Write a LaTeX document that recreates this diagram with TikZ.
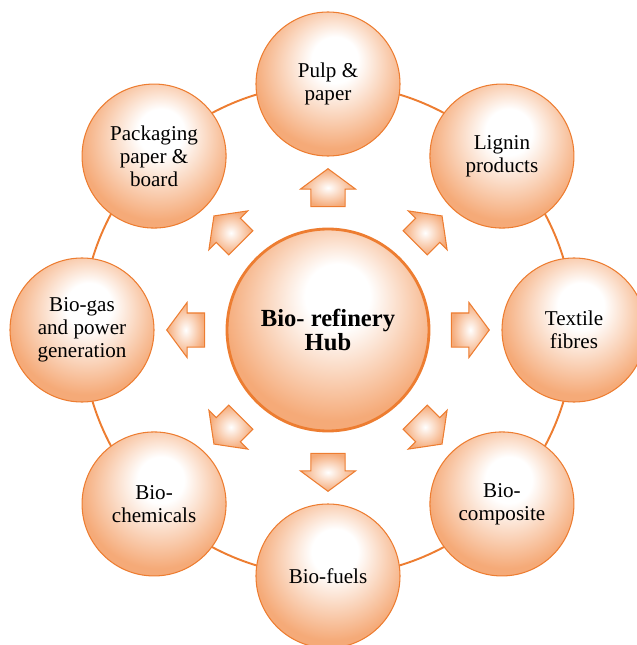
\documentclass[tikz,border=0pt]{standalone}
\usepackage{fontspec}
\setmainfont{LiberationSerif}[Extension=.ttf,UprightFont=*-Regular,BoldFont=*-Bold]
\usetikzlibrary{shapes.arrows}

\definecolor{bubbleedge}{RGB}{245,170,120}
\definecolor{bubbleline}{RGB}{237,125,49}
\pgfdeclareradialshading{bubble}{\pgfpoint{0.1cm}{0.35cm}}{color(0bp)=(white); color(8bp)=(white); color(27bp)=(bubbleedge); color(50bp)=(bubbleedge)}

\begin{document}
\begin{tikzpicture}[product/.style={circle,minimum size=2.88cm,inner sep=0pt,draw=bubbleline,line width=0.6pt,shading=bubble,align=center,font=\fontsize{12}{13}\selectfont},
                    hub/.style={circle,minimum size=4.04cm,inner sep=0pt,draw=bubbleline,line width=1.6pt,shading=bubble,align=center,font=\fontsize{14}{13.5}\selectfont\bfseries},
                    flow arrow/.style={single arrow,minimum height=0.76cm,inner xsep=0pt,inner ysep=0.33cm,single arrow head extend=0.21cm,single arrow tip angle=107,draw=bubbleline,line width=0.6pt,inner color=white,outer color=bubbleedge},
                    ring/.style={draw=bubbleline,line width=1.1pt},
                   ]
  \useasboundingbox (-6.56,6.6) rectangle (6.18,-6.3);

  \node[hub] (hub) at (0, 0) {Bio- refinery\\Hub};
  \draw[ring] (hub.center) circle (4.92);

  \node[product] (pulp) at (90:4.92) {Pulp \&\\paper};
  \node[product] (lignin) at (45:4.92) {Lignin\\products};
  \node[product] (textile) at (0:4.92) {Textile\\fibres};
  \node[product] (biocomposite) at (-45:4.92) {Bio-\\composite};
  \node[product] (biofuels) at (-90:4.92) {Bio-fuels};
  \node[product] (biochemicals) at (-135:4.92) {Bio-\\chemicals};
  \node[product] (biogas) at (180:4.92) {Bio-gas\\and power\\generation};
  \node[product] (packaging) at (135:4.92) {Packaging\\paper \&\\board};

  \node[flow arrow,rotate=90] (to-pulp) at (90:2.72) {};
  \node[flow arrow,rotate=45] (to-lignin) at (45:2.72) {};
  \node[flow arrow,rotate=0] (to-textile) at (0:2.72) {};
  \node[flow arrow,rotate=-45] (to-biocomposite) at (-45:2.72) {};
  \node[flow arrow,rotate=-90] (to-biofuels) at (-90:2.72) {};
  \node[flow arrow,rotate=-135] (to-biochemicals) at (-135:2.72) {};
  \node[flow arrow,rotate=180] (to-biogas) at (180:2.72) {};
  \node[flow arrow,rotate=135] (to-packaging) at (135:2.72) {};
\end{tikzpicture}
\end{document}
